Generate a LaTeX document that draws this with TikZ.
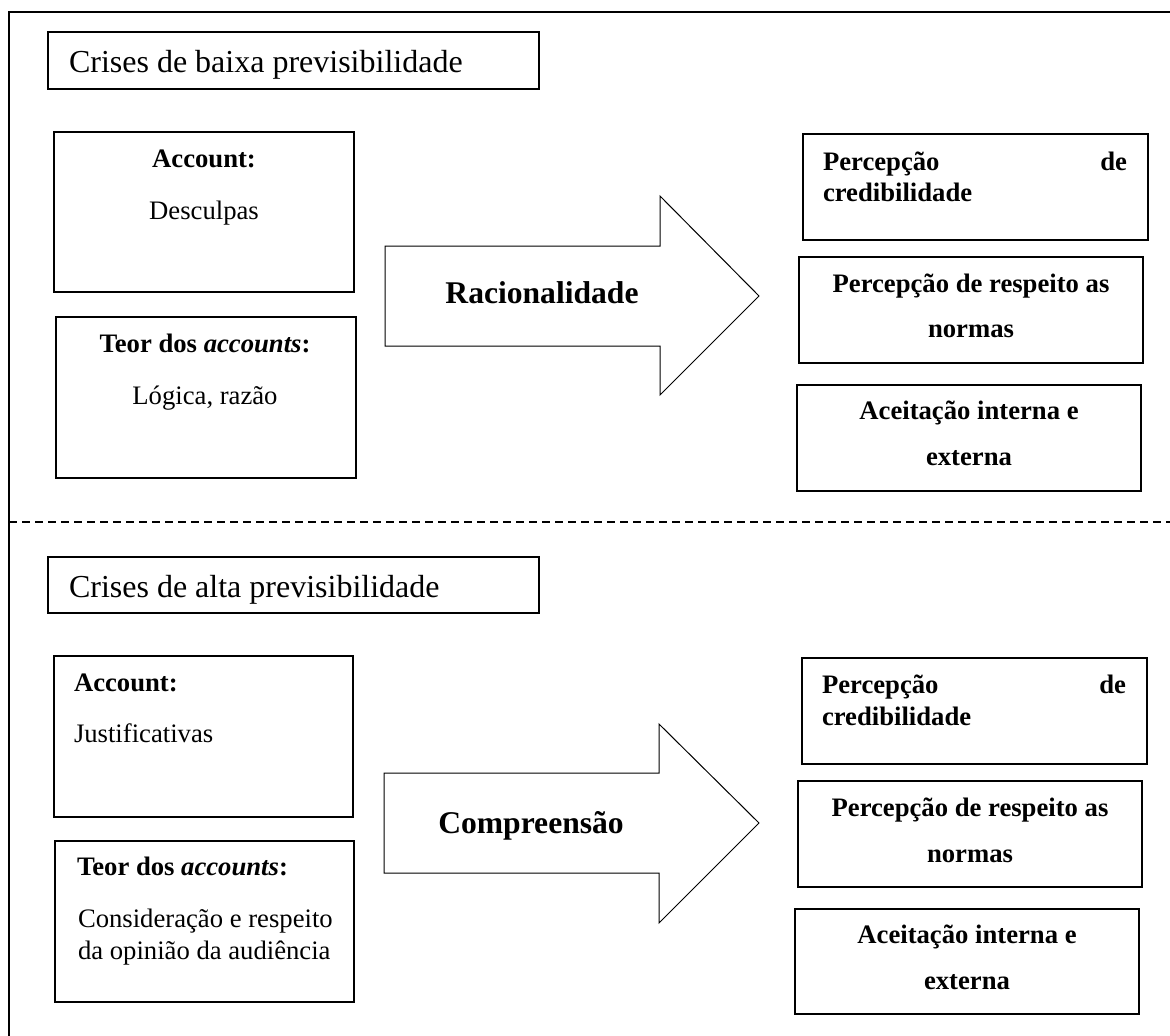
\documentclass[tikz,border=0pt]{standalone}
\usepackage{fontspec}
\setmainfont{Liberation Serif}
\begin{document}
\begin{tikzpicture}[x=1pt,y=-1pt,
  panel/.style={draw, line width=1.2pt, anchor=north west, inner sep=0pt, outer sep=0pt},
  label/.style={inner sep=0pt, outer sep=0pt, anchor=base},
  labelw/.style={inner sep=0pt, outer sep=0pt, anchor=base west},
  bodyfont/.style={font=\fontsize{26.67}{31}\selectfont},
  boldfont/.style={font=\fontsize{26.67}{31}\selectfont\bfseries},
  headfont/.style={font=\fontsize{32}{38}\selectfont},
  flowfont/.style={font=\fontsize{31.6}{38}\selectfont\bfseries},
  bigarrow/.style={draw, line width=1pt, fill=white}]
\useasboundingbox (0,0) rectangle (1170,1036);

% outer frame and section divider
\draw[line width=2pt] (9,1036) -- (9,12) -- (1170,12);
\draw[line width=1.5pt, dash pattern=on 8pt off 5pt] (9,522) -- (1170,522);

% ---------- low predictability ----------
\node[panel, minimum width=491pt, minimum height=57pt] (title1) at (48,32) {};
\node[labelw, headfont] (title1t) at (69,72) {Crises de baixa previsibilidade};

\node[panel, minimum width=300pt, minimum height=160pt] (acc1) at (54,132) {};
\node[label, boldfont] (acc1a) at (204,167) {Account:};
\node[label, bodyfont] (acc1b) at (204,219) {Desculpas};

\node[panel, minimum width=300pt, minimum height=161pt] (teor1) at (56,317) {};
\node[label, boldfont] (teor1a) at (205,352) {Teor dos \textit{accounts}:};
\node[label, bodyfont] (teor1b) at (205,404) {Lógica, razão};

\draw[bigarrow] (385,246) -- (660,246) -- (660,196) -- (759,296)
  -- (660,395) -- (660,346) -- (385,346) -- cycle;
\node[label, flowfont] (flow1) at (542,303) {Racionalidade};

\node[panel, minimum width=345pt, minimum height=106pt] (pa) at (803,134) {};
\node[labelw, boldfont] (pa1) at (823,170) {\makebox[304pt][s]{Percepção de}};
\node[labelw, boldfont] (pa2) at (823,201) {credibilidade};

\node[panel, minimum width=344pt, minimum height=106pt] (pb) at (799,257) {};
\node[label, boldfont] (pb1) at (971,292) {Percepção de respeito as};
\node[label, boldfont] (pb2) at (971,337) {normas};

\node[panel, minimum width=344pt, minimum height=106pt] (pc) at (797,385) {};
\node[label, boldfont] (pc1) at (969,419) {Aceitação interna e};
\node[label, boldfont] (pc2) at (969,465) {externa};

% ---------- high predictability ----------
\node[panel, minimum width=491pt, minimum height=56pt] (title2) at (48,557) {};
\node[labelw, headfont] (title2t) at (69,597) {Crises de alta previsibilidade};

\node[panel, minimum width=299pt, minimum height=161pt] (acc2) at (54,656) {};
\node[labelw, boldfont] (acc2a) at (74,691) {Account:};
\node[labelw, bodyfont] (acc2b) at (74,742) {Justificativas};

\node[panel, minimum width=299pt, minimum height=161pt] (teor2) at (55,841) {};
\node[labelw, boldfont] (teor2a) at (77,875) {Teor dos \textit{accounts}:};
\node[labelw, bodyfont] (teor2b) at (78,927) {Consideração e respeito};
\node[labelw, bodyfont] (teor2c) at (78,959) {da opinião da audiência};

\draw[bigarrow] (384,773) -- (659,773) -- (659,724) -- (759,823)
  -- (659,923) -- (659,873) -- (384,873) -- cycle;
\node[label, flowfont] (flow2) at (531,833) {Compreensão};

\node[panel, minimum width=345pt, minimum height=106pt] (qa) at (802,658) {};
\node[labelw, boldfont] (qa1) at (822,693) {\makebox[304pt][s]{Percepção de}};
\node[labelw, boldfont] (qa2) at (822,725) {credibilidade};

\node[panel, minimum width=344pt, minimum height=106pt] (qb) at (798,781) {};
\node[label, boldfont] (qb1) at (970,816) {Percepção de respeito as};
\node[label, boldfont] (qb2) at (970,862) {normas};

\node[panel, minimum width=344pt, minimum height=105pt] (qc) at (795,909) {};
\node[label, boldfont] (qc1) at (967,943) {Aceitação interna e};
\node[label, boldfont] (qc2) at (967,989) {externa};
\end{tikzpicture}
\end{document}
